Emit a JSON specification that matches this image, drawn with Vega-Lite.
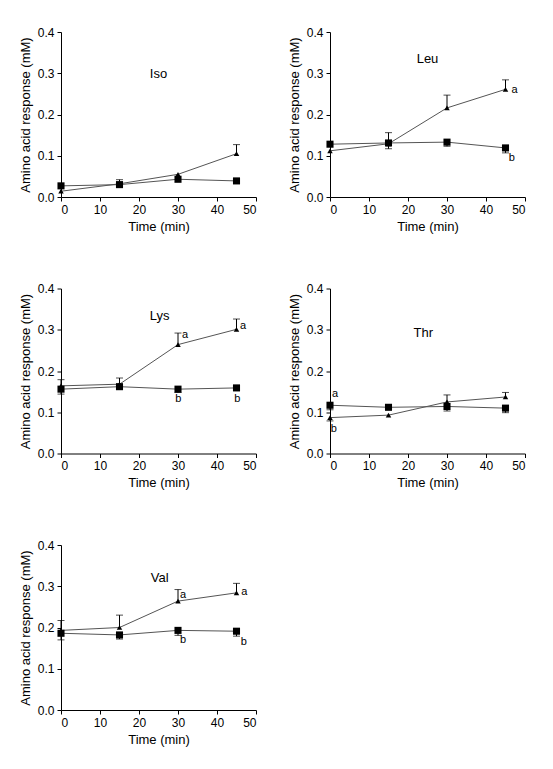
{
  "$schema": "https://vega.github.io/schema/vega-lite/v6.json",
  "padding": {"top": 26, "left": 19, "right": 5, "bottom": 5},
  "background": "white",
  "config": {
    "font": "Liberation Sans",
    "view": {"stroke": null},
    "style": {"guide-title": {"fontWeight": "normal"}},
    "axis": {"grid": false, "domainColor": "black", "tickColor": "black", "labelColor": "black", "titleColor": "black", "labelFont": "Liberation Sans", "titleFont": "Liberation Sans", "labelFontSize": 12, "titleFontSize": 13, "titleFontWeight": "normal", "tickSize": 4, "labelPadding": 3, "domainWidth": 1, "tickWidth": 1},
    "axisX": {"titlePadding": 5, "titleFontWeight": "normal"},
    "axisY": {"titlePadding": 5, "titleFontWeight": "normal"}
  },
  "datasets": {
    "pts": [
      {"aa": "Iso", "time": 0, "group": "sq", "value": 0.027, "err": null},
      {"aa": "Iso", "time": 15, "group": "sq", "value": 0.030, "err": null},
      {"aa": "Iso", "time": 30, "group": "sq", "value": 0.043, "err": null},
      {"aa": "Iso", "time": 45, "group": "sq", "value": 0.039, "err": null},
      {"aa": "Iso", "time": 0, "group": "tri", "value": 0.014, "err": null},
      {"aa": "Iso", "time": 15, "group": "tri", "value": 0.032, "err": 0.042},
      {"aa": "Iso", "time": 30, "group": "tri", "value": 0.055, "err": null},
      {"aa": "Iso", "time": 45, "group": "tri", "value": 0.105, "err": 0.127},
      {"aa": "Leu", "time": 0, "group": "sq", "value": 0.128, "err": null},
      {"aa": "Leu", "time": 15, "group": "sq", "value": 0.131, "err": 0.117},
      {"aa": "Leu", "time": 30, "group": "sq", "value": 0.133, "err": 0.123},
      {"aa": "Leu", "time": 45, "group": "sq", "value": 0.119, "err": 0.107},
      {"aa": "Leu", "time": 0, "group": "tri", "value": 0.112, "err": null},
      {"aa": "Leu", "time": 15, "group": "tri", "value": 0.129, "err": 0.156},
      {"aa": "Leu", "time": 30, "group": "tri", "value": 0.216, "err": 0.247},
      {"aa": "Leu", "time": 45, "group": "tri", "value": 0.261, "err": 0.284},
      {"aa": "Lys", "time": 0, "group": "sq", "value": 0.156, "err": 0.144},
      {"aa": "Lys", "time": 15, "group": "sq", "value": 0.162, "err": null},
      {"aa": "Lys", "time": 30, "group": "sq", "value": 0.156, "err": 0.148},
      {"aa": "Lys", "time": 45, "group": "sq", "value": 0.159, "err": null},
      {"aa": "Lys", "time": 0, "group": "tri", "value": 0.164, "err": 0.179},
      {"aa": "Lys", "time": 15, "group": "tri", "value": 0.168, "err": 0.183},
      {"aa": "Lys", "time": 30, "group": "tri", "value": 0.264, "err": 0.292},
      {"aa": "Lys", "time": 45, "group": "tri", "value": 0.301, "err": 0.326},
      {"aa": "Thr", "time": 0, "group": "sq", "value": 0.117, "err": 0.106},
      {"aa": "Thr", "time": 15, "group": "sq", "value": 0.112, "err": null},
      {"aa": "Thr", "time": 30, "group": "sq", "value": 0.114, "err": 0.103},
      {"aa": "Thr", "time": 45, "group": "sq", "value": 0.110, "err": 0.099},
      {"aa": "Thr", "time": 0, "group": "tri", "value": 0.087, "err": 0.079},
      {"aa": "Thr", "time": 15, "group": "tri", "value": 0.093, "err": null},
      {"aa": "Thr", "time": 30, "group": "tri", "value": 0.125, "err": 0.142},
      {"aa": "Thr", "time": 45, "group": "tri", "value": 0.137, "err": 0.148},
      {"aa": "Val", "time": 0, "group": "sq", "value": 0.186, "err": 0.170},
      {"aa": "Val", "time": 15, "group": "sq", "value": 0.182, "err": 0.172},
      {"aa": "Val", "time": 30, "group": "sq", "value": 0.193, "err": 0.181},
      {"aa": "Val", "time": 45, "group": "sq", "value": 0.191, "err": 0.179},
      {"aa": "Val", "time": 0, "group": "tri", "value": 0.193, "err": 0.217},
      {"aa": "Val", "time": 15, "group": "tri", "value": 0.200, "err": 0.230},
      {"aa": "Val", "time": 30, "group": "tri", "value": 0.264, "err": 0.292},
      {"aa": "Val", "time": 45, "group": "tri", "value": 0.284, "err": 0.307}
    ],
    "notes": [
      {"aa": "Iso", "x": 25, "y": 0.297, "label": "Iso", "kind": "name"},
      {"aa": "Leu", "x": 25, "y": 0.335, "label": "Leu", "kind": "name"},
      {"aa": "Lys", "x": 25.3, "y": 0.334, "label": "Lys", "kind": "name"},
      {"aa": "Thr", "x": 23.9, "y": 0.293, "label": "Thr", "kind": "name"},
      {"aa": "Val", "x": 25.3, "y": 0.321, "label": "Val", "kind": "name"},
      {"aa": "Leu", "x": 47.3, "y": 0.260, "label": "a", "kind": "letter"},
      {"aa": "Leu", "x": 46.6, "y": 0.095, "label": "b", "kind": "letter"},
      {"aa": "Lys", "x": 31.8, "y": 0.288, "label": "a", "kind": "letter"},
      {"aa": "Lys", "x": 46.7, "y": 0.309, "label": "a", "kind": "letter"},
      {"aa": "Lys", "x": 30.05, "y": 0.132, "label": "b", "kind": "letter"},
      {"aa": "Lys", "x": 45.2, "y": 0.132, "label": "b", "kind": "letter"},
      {"aa": "Thr", "x": 1.3, "y": 0.144, "label": "a", "kind": "letter"},
      {"aa": "Thr", "x": 1.0, "y": 0.059, "label": "b", "kind": "letter"},
      {"aa": "Val", "x": 31.3, "y": 0.278, "label": "a", "kind": "letter"},
      {"aa": "Val", "x": 47.0, "y": 0.285, "label": "a", "kind": "letter"},
      {"aa": "Val", "x": 31.3, "y": 0.169, "label": "b", "kind": "letter"},
      {"aa": "Val", "x": 46.9, "y": 0.165, "label": "b", "kind": "letter"}
    ]
  },
  "columns": 2,
  "spacing": {"row": 91.5, "column": 74},
  "bounds": "flush",
  "concat": [
    {
      "width": 195, "height": 165,
      "data": {"name": "pts"},
      "transform": [{"filter": "datum.aa == 'Iso'"}],
      "encoding": {
        "x": {"field": "time", "type": "quantitative", "scale": {"domain": [0, 50], "nice": false}, "axis": {"values": [0, 10, 20, 30, 40, 50], "title": "Time (min)"}},
        "y": {"field": "value", "type": "quantitative", "scale": {"domain": [0, 0.4], "nice": false}, "axis": {"values": [0, 0.1, 0.2, 0.3, 0.4], "format": ".1f", "title": "Amino acid response (mM)"}}
      },
      "layer": [
        {"mark": {"type": "line", "color": "#555555", "strokeWidth": 1}, "encoding": {"detail": {"field": "group"}}},
        {"transform": [{"filter": "datum.err != null"}], "mark": {"type": "rule", "color": "black", "strokeWidth": 1}, "encoding": {"y2": {"field": "err"}}},
        {"transform": [{"filter": "datum.err != null"}], "mark": {"type": "tick", "orient": "horizontal", "color": "black", "size": 7, "thickness": 1}, "encoding": {"y": {"field": "err", "type": "quantitative"}}},
        {"transform": [{"filter": "datum.group == 'sq'"}], "mark": {"type": "point", "shape": "square", "filled": true, "color": "black", "opacity": 1, "size": 50}},
        {"transform": [{"filter": "datum.group == 'tri'"}], "mark": {"type": "point", "shape": "triangle-up", "filled": true, "color": "black", "opacity": 1, "size": 30}},
        {"data": {"name": "notes"}, "transform": [{"filter": "datum.aa == 'Iso' && datum.kind == 'name'"}], "mark": {"type": "text", "fontSize": 13, "color": "black"}, "encoding": {"x": {"field": "x", "type": "quantitative"}, "y": {"field": "y", "type": "quantitative"}, "text": {"field": "label"}}}
      ]
    },
    {
      "width": 195, "height": 165,
      "data": {"name": "pts"},
      "transform": [{"filter": "datum.aa == 'Leu'"}],
      "encoding": {
        "x": {"field": "time", "type": "quantitative", "scale": {"domain": [0, 50], "nice": false}, "axis": {"values": [0, 10, 20, 30, 40, 50], "title": "Time (min)"}},
        "y": {"field": "value", "type": "quantitative", "scale": {"domain": [0, 0.4], "nice": false}, "axis": {"values": [0, 0.1, 0.2, 0.3, 0.4], "format": ".1f", "title": "Amino acid response (mM)"}}
      },
      "layer": [
        {"mark": {"type": "line", "color": "#555555", "strokeWidth": 1}, "encoding": {"detail": {"field": "group"}}},
        {"transform": [{"filter": "datum.err != null"}], "mark": {"type": "rule", "color": "black", "strokeWidth": 1}, "encoding": {"y2": {"field": "err"}}},
        {"transform": [{"filter": "datum.err != null"}], "mark": {"type": "tick", "orient": "horizontal", "color": "black", "size": 7, "thickness": 1}, "encoding": {"y": {"field": "err", "type": "quantitative"}}},
        {"transform": [{"filter": "datum.group == 'sq'"}], "mark": {"type": "point", "shape": "square", "filled": true, "color": "black", "opacity": 1, "size": 50}},
        {"transform": [{"filter": "datum.group == 'tri'"}], "mark": {"type": "point", "shape": "triangle-up", "filled": true, "color": "black", "opacity": 1, "size": 30}},
        {"data": {"name": "notes"}, "transform": [{"filter": "datum.aa == 'Leu' && datum.kind == 'name'"}], "mark": {"type": "text", "fontSize": 13, "color": "black"}, "encoding": {"x": {"field": "x", "type": "quantitative"}, "y": {"field": "y", "type": "quantitative"}, "text": {"field": "label"}}},
        {"data": {"name": "notes"}, "transform": [{"filter": "datum.aa == 'Leu' && datum.kind == 'letter'"}], "mark": {"type": "text", "fontSize": 11, "color": "black"}, "encoding": {"x": {"field": "x", "type": "quantitative"}, "y": {"field": "y", "type": "quantitative"}, "text": {"field": "label"}}}
      ]
    },
    {
      "width": 195, "height": 165,
      "data": {"name": "pts"},
      "transform": [{"filter": "datum.aa == 'Lys'"}],
      "encoding": {
        "x": {"field": "time", "type": "quantitative", "scale": {"domain": [0, 50], "nice": false}, "axis": {"values": [0, 10, 20, 30, 40, 50], "title": "Time (min)"}},
        "y": {"field": "value", "type": "quantitative", "scale": {"domain": [0, 0.4], "nice": false}, "axis": {"values": [0, 0.1, 0.2, 0.3, 0.4], "format": ".1f", "title": "Amino acid response (mM)"}}
      },
      "layer": [
        {"mark": {"type": "line", "color": "#555555", "strokeWidth": 1}, "encoding": {"detail": {"field": "group"}}},
        {"transform": [{"filter": "datum.err != null"}], "mark": {"type": "rule", "color": "black", "strokeWidth": 1}, "encoding": {"y2": {"field": "err"}}},
        {"transform": [{"filter": "datum.err != null"}], "mark": {"type": "tick", "orient": "horizontal", "color": "black", "size": 7, "thickness": 1}, "encoding": {"y": {"field": "err", "type": "quantitative"}}},
        {"transform": [{"filter": "datum.group == 'sq'"}], "mark": {"type": "point", "shape": "square", "filled": true, "color": "black", "opacity": 1, "size": 50}},
        {"transform": [{"filter": "datum.group == 'tri'"}], "mark": {"type": "point", "shape": "triangle-up", "filled": true, "color": "black", "opacity": 1, "size": 30}},
        {"data": {"name": "notes"}, "transform": [{"filter": "datum.aa == 'Lys' && datum.kind == 'name'"}], "mark": {"type": "text", "fontSize": 13, "color": "black"}, "encoding": {"x": {"field": "x", "type": "quantitative"}, "y": {"field": "y", "type": "quantitative"}, "text": {"field": "label"}}},
        {"data": {"name": "notes"}, "transform": [{"filter": "datum.aa == 'Lys' && datum.kind == 'letter'"}], "mark": {"type": "text", "fontSize": 11, "color": "black"}, "encoding": {"x": {"field": "x", "type": "quantitative"}, "y": {"field": "y", "type": "quantitative"}, "text": {"field": "label"}}}
      ]
    },
    {
      "width": 195, "height": 165,
      "data": {"name": "pts"},
      "transform": [{"filter": "datum.aa == 'Thr'"}],
      "encoding": {
        "x": {"field": "time", "type": "quantitative", "scale": {"domain": [0, 50], "nice": false}, "axis": {"values": [0, 10, 20, 30, 40, 50], "title": "Time (min)"}},
        "y": {"field": "value", "type": "quantitative", "scale": {"domain": [0, 0.4], "nice": false}, "axis": {"values": [0, 0.1, 0.2, 0.3, 0.4], "format": ".1f", "title": "Amino acid response (mM)"}}
      },
      "layer": [
        {"mark": {"type": "line", "color": "#555555", "strokeWidth": 1}, "encoding": {"detail": {"field": "group"}}},
        {"transform": [{"filter": "datum.err != null"}], "mark": {"type": "rule", "color": "black", "strokeWidth": 1}, "encoding": {"y2": {"field": "err"}}},
        {"transform": [{"filter": "datum.err != null"}], "mark": {"type": "tick", "orient": "horizontal", "color": "black", "size": 7, "thickness": 1}, "encoding": {"y": {"field": "err", "type": "quantitative"}}},
        {"transform": [{"filter": "datum.group == 'sq'"}], "mark": {"type": "point", "shape": "square", "filled": true, "color": "black", "opacity": 1, "size": 50}},
        {"transform": [{"filter": "datum.group == 'tri'"}], "mark": {"type": "point", "shape": "triangle-up", "filled": true, "color": "black", "opacity": 1, "size": 30}},
        {"data": {"name": "notes"}, "transform": [{"filter": "datum.aa == 'Thr' && datum.kind == 'name'"}], "mark": {"type": "text", "fontSize": 13, "color": "black"}, "encoding": {"x": {"field": "x", "type": "quantitative"}, "y": {"field": "y", "type": "quantitative"}, "text": {"field": "label"}}},
        {"data": {"name": "notes"}, "transform": [{"filter": "datum.aa == 'Thr' && datum.kind == 'letter'"}], "mark": {"type": "text", "fontSize": 11, "color": "black"}, "encoding": {"x": {"field": "x", "type": "quantitative"}, "y": {"field": "y", "type": "quantitative"}, "text": {"field": "label"}}}
      ]
    },
    {
      "width": 195, "height": 165,
      "data": {"name": "pts"},
      "transform": [{"filter": "datum.aa == 'Val'"}],
      "encoding": {
        "x": {"field": "time", "type": "quantitative", "scale": {"domain": [0, 50], "nice": false}, "axis": {"values": [0, 10, 20, 30, 40, 50], "title": "Time (min)"}},
        "y": {"field": "value", "type": "quantitative", "scale": {"domain": [0, 0.4], "nice": false}, "axis": {"values": [0, 0.1, 0.2, 0.3, 0.4], "format": ".1f", "title": "Amino acid response (mM)"}}
      },
      "layer": [
        {"mark": {"type": "line", "color": "#555555", "strokeWidth": 1}, "encoding": {"detail": {"field": "group"}}},
        {"transform": [{"filter": "datum.err != null"}], "mark": {"type": "rule", "color": "black", "strokeWidth": 1}, "encoding": {"y2": {"field": "err"}}},
        {"transform": [{"filter": "datum.err != null"}], "mark": {"type": "tick", "orient": "horizontal", "color": "black", "size": 7, "thickness": 1}, "encoding": {"y": {"field": "err", "type": "quantitative"}}},
        {"transform": [{"filter": "datum.group == 'sq'"}], "mark": {"type": "point", "shape": "square", "filled": true, "color": "black", "opacity": 1, "size": 50}},
        {"transform": [{"filter": "datum.group == 'tri'"}], "mark": {"type": "point", "shape": "triangle-up", "filled": true, "color": "black", "opacity": 1, "size": 30}},
        {"data": {"name": "notes"}, "transform": [{"filter": "datum.aa == 'Val' && datum.kind == 'name'"}], "mark": {"type": "text", "fontSize": 13, "color": "black"}, "encoding": {"x": {"field": "x", "type": "quantitative"}, "y": {"field": "y", "type": "quantitative"}, "text": {"field": "label"}}},
        {"data": {"name": "notes"}, "transform": [{"filter": "datum.aa == 'Val' && datum.kind == 'letter'"}], "mark": {"type": "text", "fontSize": 11, "color": "black"}, "encoding": {"x": {"field": "x", "type": "quantitative"}, "y": {"field": "y", "type": "quantitative"}, "text": {"field": "label"}}}
      ]
    }
  ]
}
